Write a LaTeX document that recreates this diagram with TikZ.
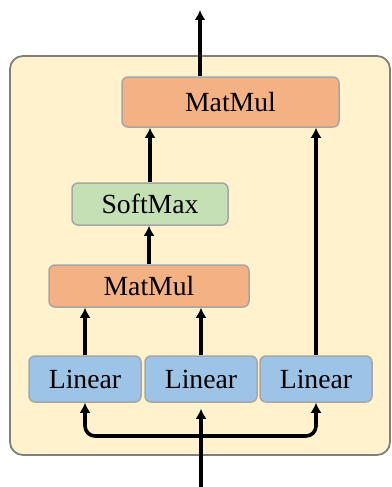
\documentclass[tikz,border=0pt]{standalone}
\usepackage{fontspec}
\setmainfont{Liberation Serif}
\usetikzlibrary{arrows.meta}
\definecolor{panelfill}{HTML}{FFF2CC}
\definecolor{panelline}{HTML}{7F7F7F}
\definecolor{matfill}{HTML}{F4B183}
\definecolor{softfill}{HTML}{C5E0B4}
\definecolor{linfill}{HTML}{9DC3E6}
\definecolor{boxline}{HTML}{A6A6A6}
\tikzset{
  opbox/.style={draw=boxline, line width=1.5pt, rounded corners=6pt,
    inner sep=0pt, font=\fontsize{27.7}{30}\selectfont},
  matbox/.style={opbox, fill=matfill},
  softbox/.style={opbox, fill=softfill},
  linbox/.style={opbox, fill=linfill, minimum width=112pt, minimum height=46pt},
  tip/.style={Latex[length=10pt,width=11pt]},
  flow/.style={line width=3.6pt, -{Latex[length=10pt,width=11pt]}},
}
\begin{document}
\begin{tikzpicture}[x=1pt,y=-1pt]
\useasboundingbox (0,0) rectangle (391,487);
% outer panel
\draw[fill=panelfill, draw=panelline, line width=1.8pt, rounded corners=13pt]
  (10,56) rectangle (390,455);
% operation blocks
\node[matbox, minimum width=217pt, minimum height=50pt] (mm1) at (230.5,102) {MatMul};
\node[softbox, minimum width=156pt, minimum height=42pt] (sm) at (150,204) {SoftMax};
\node[matbox, minimum width=200pt, minimum height=42pt] (mm2) at (149,286) {MatMul};
\node[linbox] (l1) at (85,379) {Linear};
\node[linbox] (l2) at (201,379) {Linear};
\node[linbox] (l3) at (316,379) {Linear};
% free ends and branch point
\coordinate (out) at (200,10);
\coordinate (in) at (201,487);
\coordinate (split) at (201,436);
% connectors
\draw[flow] (mm1.north -| out) -- (out);
\draw[flow] (sm.north -| 150,0) -- (mm1.south -| 150,0);
\draw[flow] (mm2.north -| 149,0) -- (sm.south -| 149,0);
\draw[flow] (l1.north) -- (l1.north |- mm2.south);
\draw[flow] (l2.north) -- (l2.north |- mm2.south);
\draw[flow] (l3.north) -- (l3.north |- mm1.south);
\draw[flow, shorten >=6pt] (in) -- (l2.south);
\draw[line width=3.6pt, rounded corners=10pt, {Latex[length=10pt,width=11pt]}-{Latex[length=10pt,width=11pt]}]
  (l1.south) |- (split) -| (l3.south);
\end{tikzpicture}
\end{document}
